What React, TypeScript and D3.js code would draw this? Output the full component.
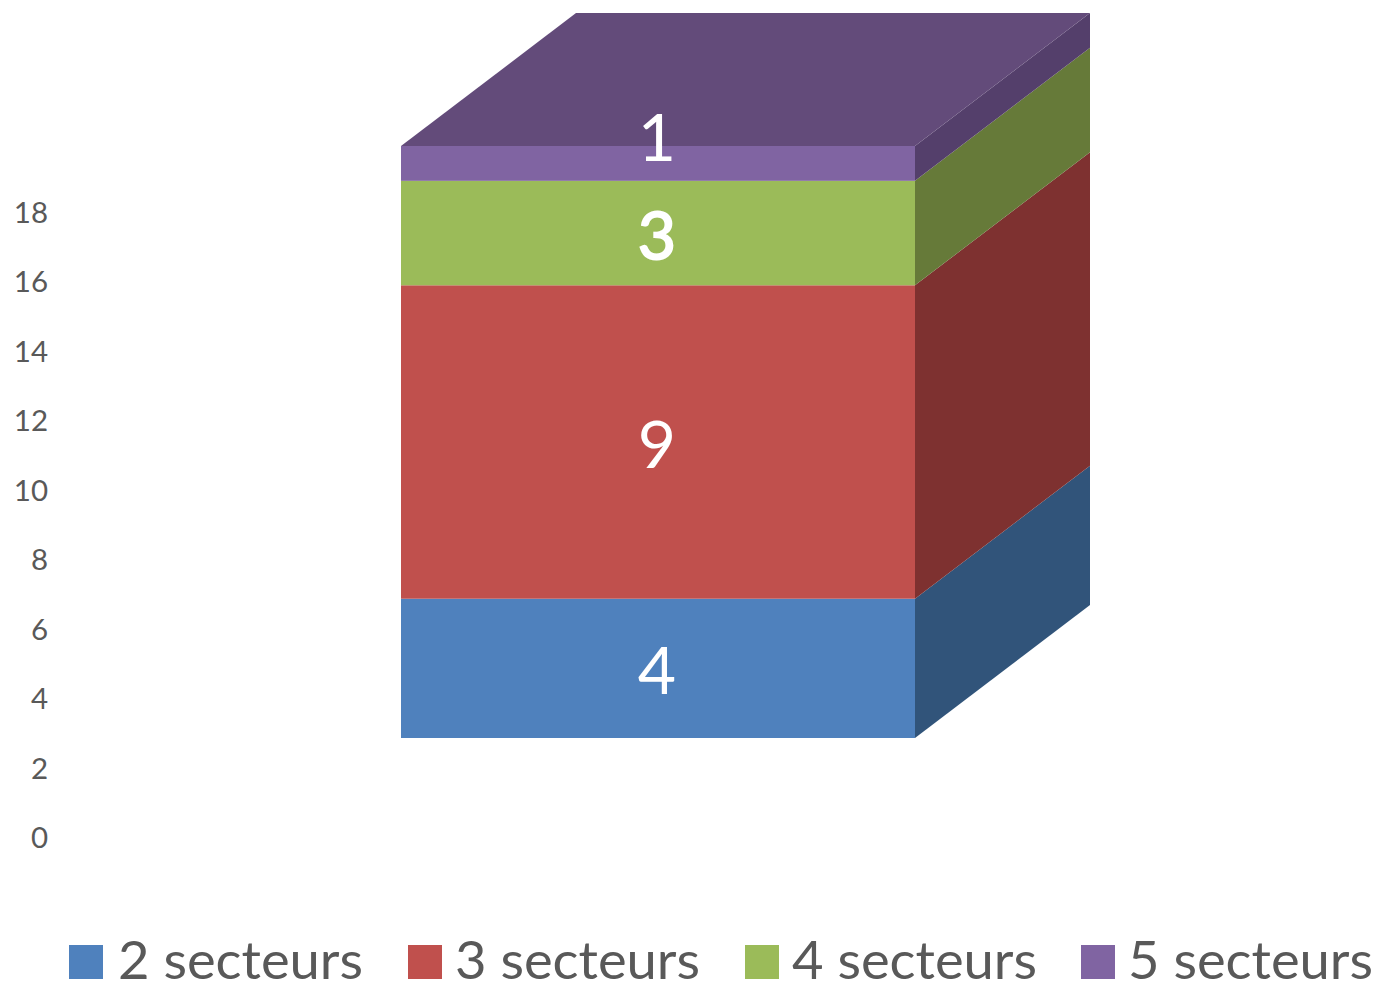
import React from "react";
import * as d3 from "d3";

const categories = ["2 secteurs", "3 secteurs", "4 secteurs", "5 secteurs"];
const values = [4, 9, 3, 1];
const frontColors = ["#4f81bd", "#c0504d", "#9bbb59", "#8064a2"];
const sideColors = ["#31547a", "#7e3130", "#667a39", "#543f6b"];
const topColor = "#634b7a";
const yTicks = [0, 2, 4, 6, 8, 10, 12, 14, 16, 18];
const boldLabels = [false, false, true, false];

export default function App() {
  const y = d3.scaleLinear().domain([0, 17]).range([738, 146]);
  const tickY = d3.scaleLinear().domain([0, 18]).range([838, 213]);
  const x0 = 401, x1 = 915;
  const dx = 175, dy = -133;
  const stack = d3.stack<any>().keys(categories.map((_, i) => String(i)))([
    Object.fromEntries(values.map((v, i) => [String(i), v])),
  ]);
  const font = "Lato, sans-serif";
  const topPts = [[x0, y(17)], [x1, y(17)], [x1 + dx, y(17) + dy], [x0 + dx, y(17) + dy]];
  return (
    <svg width={1377} height={983} style={{ position: "absolute", left: 0, top: 0, background: "#fff" }}>
      {yTicks.map((t) => (
        <text key={t} x={48} y={tickY(t) + 10} textAnchor="end" fontFamily={font} fontSize={29.5} fill="#595959">{t}</text>
      ))}
      {stack.map((s, i) => {
        const a = y(s[0][0]), b = y(s[0][1]);
        return (
          <g key={i}>
            <polygon fill={sideColors[i]} points={[[x1, a], [x1 + dx, a + dy], [x1 + dx, b + dy], [x1, b]].join(" ")} />
            <rect x={x0} y={b} width={x1 - x0} height={a - b} fill={frontColors[i]} />
          </g>
        );
      })}
      <polygon fill={topColor} points={topPts.join(" ")} />
      {stack.map((s, i) => (
        <text key={i} x={657} y={i === 3 ? 161 : (y(s[0][0]) + y(s[0][1])) / 2 + 26} textAnchor="middle" fontFamily={font} fontSize={66} stroke={boldLabels[i] ? "#fff" : "none"} strokeWidth={boldLabels[i] ? 2 : 0} fill="#fff">{values[i]}</text>
      ))}
      {categories.map((c, i) => {
        const lx = [69, 408, 745, 1081][i];
        return (
          <g key={c}>
            <rect x={lx} y={945} width={34} height={34} fill={frontColors[i]} />
            <text x={lx + (i === 0 ? 49 : 47)} y={979} fontFamily={font} fontSize={52} textLength={245} lengthAdjust="spacingAndGlyphs" fill="#595959">{c}</text>
          </g>
        );
      })}
    </svg>
  );
}
